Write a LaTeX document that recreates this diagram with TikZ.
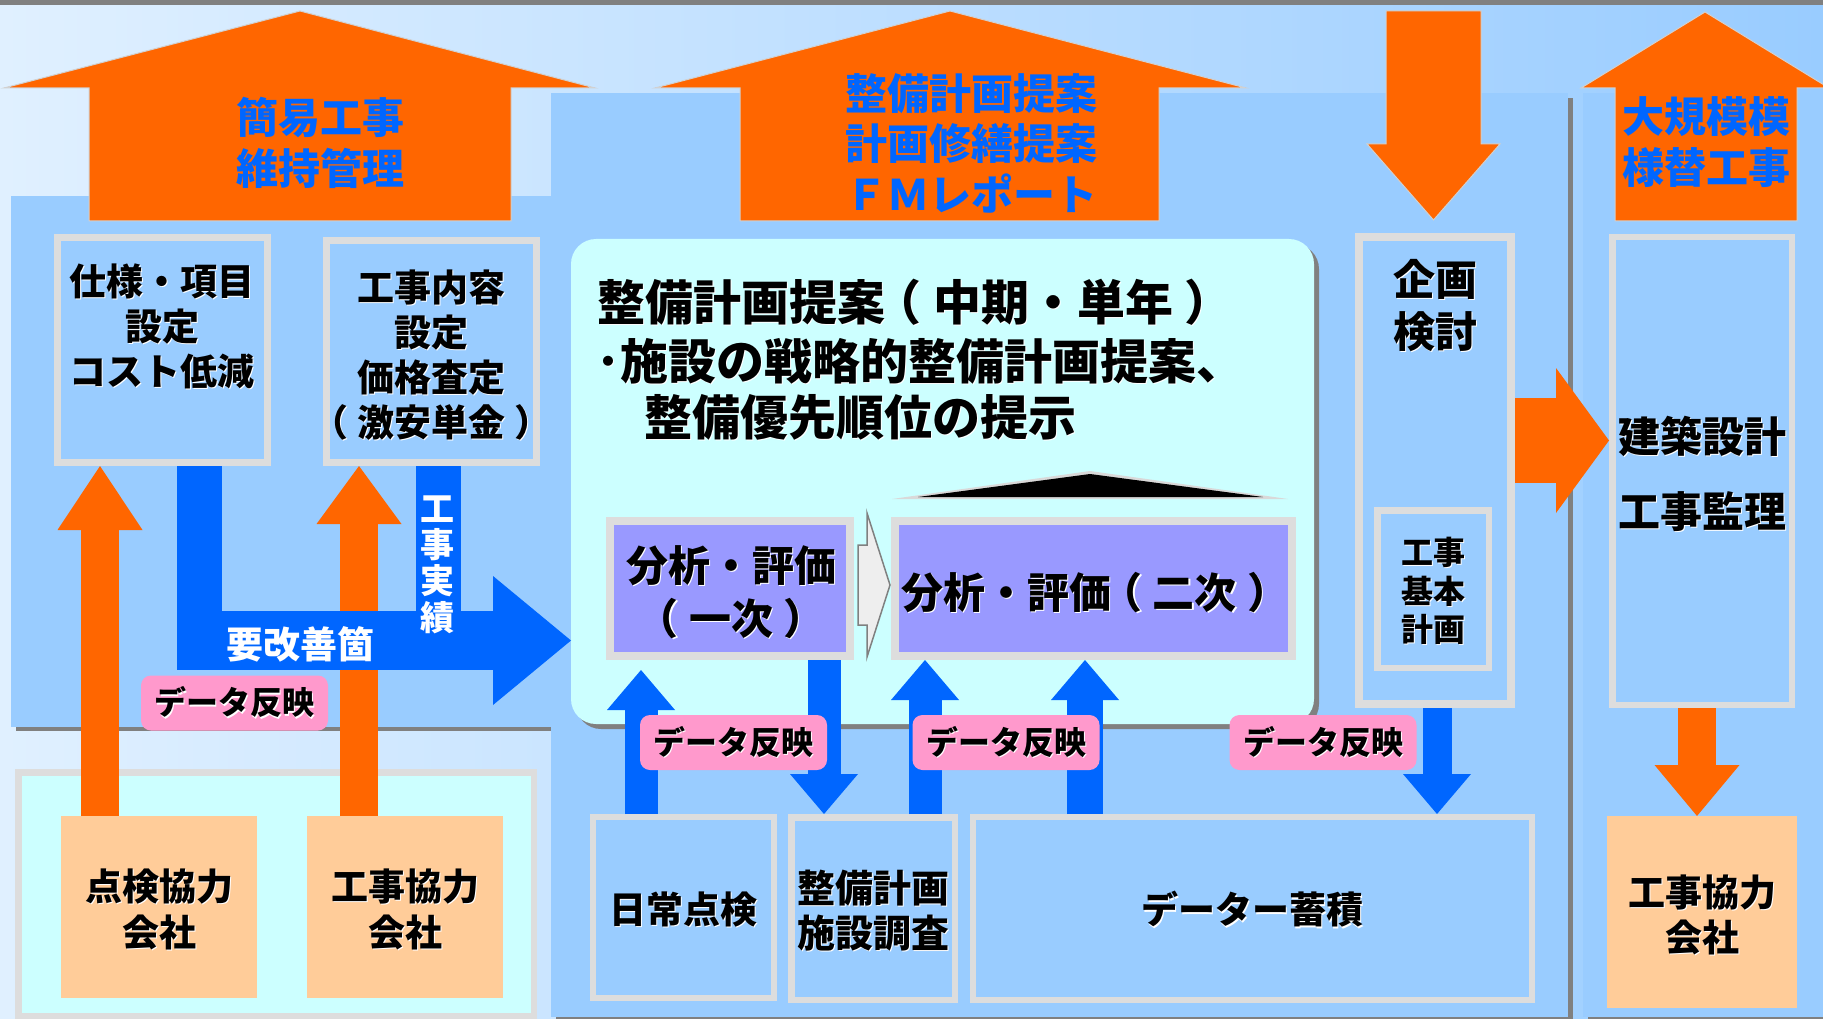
\documentclass[tikz,border=0pt]{standalone}
\usepackage{fontspec}
\newfontfamily\jpf{Noto Sans CJK JP}
\usetikzlibrary{arrows.meta}
\definecolor{orangeC}{HTML}{FF6600}
\definecolor{blueC}{HTML}{0066FF}
\definecolor{panelC}{HTML}{99CCFF}
\definecolor{cyanC}{HTML}{CCFFFF}
\definecolor{purpleC}{HTML}{9999FF}
\definecolor{borderC}{HTML}{DDDDDD}
\definecolor{peachC}{HTML}{FFCC99}
\definecolor{pinkC}{HTML}{FF99CC}
\definecolor{shadowC}{HTML}{808080}
\definecolor{bgL}{HTML}{E0F0FF}
\definecolor{bgR}{HTML}{99CCFF}
\definecolor{hollowC}{HTML}{EEEEEE}
\newcommand{\tsh}[1]{\makebox[0pt][l]{\hspace{1.2pt}\raisebox{-1.2pt}{\color{white}#1}}#1}
\newcommand{\lpar}{\makebox[1em][l]{\hspace{-0.24em}（}}
\newcommand{\rpar}{\makebox[1em][l]{\hspace{0.24em}）}}
\begin{document}
\begin{tikzpicture}[x=1pt,y=-1pt,
  boxf/.style={draw=borderC, fill=panelC, inner sep=0pt},
  peachbox/.style={fill=peachC, inner sep=0pt, outer sep=0pt, minimum width=196pt, minimum height=182pt},
  txt/.style 2 args={font=\jpf\bfseries\fontsize{#1}{#2}\selectfont, align=center, inner sep=0pt, text=black},
  btxt/.style 2 args={font=\jpf\bfseries\fontsize{#1}{#2}\selectfont, align=center, inner sep=0pt, text=blueC},
  wtxt/.style 2 args={font=\jpf\bfseries\fontsize{#1}{#2}\selectfont, align=center, inner sep=0pt, text=white},
  pinktag/.style={fill=pinkC, rounded corners=10pt, minimum width=187pt, minimum height=55pt, inner sep=0pt,
    font=\jpf\bfseries\fontsize{32}{38}\selectfont},
  bigarrow/.style={fill=orangeC, draw=black!18, line width=1pt},
  oarr/.style={draw=orangeC, line width=38pt, -{Triangle[length=#1,width=85pt,line width=0pt]}},
  oarr/.default=60pt,
  barr/.style={draw=blueC, line width=33pt, -{Triangle[length=40pt,width=68pt,line width=0pt]}},
]
\useasboundingbox (0,0) rectangle (1823,1019);
% background
\shade[left color=bgL, right color=bgR] (0,0) rectangle (1823,1019);
\fill[shadowC] (0,0) rectangle (1823,5);
% panel shadows
\fill[shadowC] (16,200) rectangle (556,731);
\fill[shadowC] (556,98) rectangle (1573,1025);
\fill[shadowC] (1588,98) rectangle (1830,1025);
% panels
\fill[panelC] (11,196) rectangle (551,727);
\fill[panelC] (551,93) rectangle (1568,1017);
\fill[panelC] (1583,93) rectangle (1830,1017);
% lower left box
\node[boxf, fill=cyanC, line width=6.5pt, minimum width=515.5pt, minimum height=243.5pt] (lowerbox) at (276,894) {};

% big orange arrows
\path[bigarrow] (300,11) -- (595,88) -- (511,88) -- (511,221) -- (89,221) -- (89,88) -- (4,88) -- cycle;
\path[bigarrow] (950,11) -- (1246,88) -- (1159,88) -- (1159,221) -- (740,221) -- (740,88) -- (655,88) -- cycle;
\path[bigarrow] (1705,12) -- (1829,88) -- (1797,88) -- (1797,221) -- (1615,221) -- (1615,88) -- (1581,88) -- cycle;
\path[bigarrow] (1386,11) -- (1481,11) -- (1481,144) -- (1500,144) -- (1433.5,220) -- (1367,144) -- (1386,144) -- cycle;
\node[btxt={42}{51}] (tL) at (320,142.5) {簡易工事\\維持管理};
\node[btxt={42}{50.5}] (tC) at (971,143) {整備計画提案\\計画修繕提案\\ＦＭレポート};
\node[btxt={42}{51}] (tR) at (1706,142.5) {大規模模\\様替工事};

% boxes
\node[boxf, line width=7pt, minimum width=210pt, minimum height=225pt] (shiyou) at (162.5,350) {};
\node[boxf, line width=7pt, minimum width=210pt, minimum height=222pt] (naiyou) at (431.5,351.5) {};
\node[boxf, line width=8pt, minimum width=152pt, minimum height=467pt] (kikaku) at (1435,470.5) {};
\node[boxf, line width=6.5pt, minimum width=111.5pt, minimum height=157.5pt] (kihon) at (1433,589) {};
\node[boxf, line width=6.5pt, minimum width=179.5pt, minimum height=467.5pt] (kenchiku) at (1702,471) {};
\node[boxf, line width=6pt, minimum width=181pt, minimum height=181pt] (nichijou) at (683.5,907.5) {};
\node[boxf, line width=6.5pt, minimum width=163.5pt, minimum height=182.5pt] (seibi) at (873,908.5) {};
\node[boxf, line width=6pt, minimum width=559pt, minimum height=183pt] (data) at (1252.5,908.5) {};
\node[peachbox] (tenken) at (159,907) {};
\node[peachbox] (koujiL) at (405,907) {};
\node[peachbox, minimum width=190pt, minimum height=192pt] (koujiR) at (1702,912) {};

% central rounded box
\fill[shadowC, rounded corners=25pt] (576,244) rectangle (1319,729);
\node[fill=cyanC, rounded corners=25pt, inner sep=0pt, outer sep=0pt, minimum width=743pt, minimum height=485pt] (cyanbox) at (942.5,481.5) {};
\node[boxf, fill=purpleC, line width=8pt, minimum width=240pt, minimum height=135pt] (ichiji) at (730,588.5) {};
\node[boxf, fill=purpleC, line width=8pt, minimum width=397pt, minimum height=135pt] (niji) at (1093.5,588.5) {};
\filldraw[fill=hollowC, draw=shadowC, line width=1.5pt] (858,545) -- (867,545) -- (867,513) -- (890,585) -- (867,657) -- (867,625) -- (858,625) -- cycle;
\fill[black!15] (892,499) -- (1090,471) -- (1288,499) -- cycle;
\fill[black] (918,497) -- (1090,474) -- (1263,497) -- cycle;

% texts in boxes
\node[txt={37}{45}] (shiyouT) at (162,327) {\tsh{仕様・項目}\\\tsh{設定}\\\tsh{コスト低減}};
\node[txt={37}{45}] (naiyouT) at (431.5,355.5) {\tsh{工事内容}\\\tsh{設定}\\\tsh{価格査定}\\\tsh{\lpar 激安単金\rpar}};
\node[txt={48}{57}, anchor=west] (plan1) at (597,303) {\tsh{整備計画提案\lpar 中期・単年\rpar}};
\node[txt={48}{57}, anchor=west] (plan2) at (596,362) {\tsh{･施設の戦略的整備計画提案、}};
\node[txt={48}{57}, anchor=west] (plan3) at (644,418) {\tsh{整備優先順位の提示}};
\node[txt={42}{53}] (ichijiT) at (731,592.5) {\tsh{分析・評価}\\\tsh{\lpar 一次\rpar}};
\node[txt={42}{53}] (nijiT) at (1090,593) {\tsh{分析・評価\lpar 二次\rpar}};
\node[txt={42}{52}] (kikakuT) at (1435,306) {\tsh{企画}\\\tsh{検討}};
\node[txt={32}{38.5}] (kihonT) at (1433,591.5) {\tsh{工事}\\\tsh{基本}\\\tsh{計画}};
\node[txt={42}{75}] (kenchikuT) at (1702,474.5) {\tsh{建築設計}\\\tsh{工事監理}};
\node[txt={37}{46}] (tenkenT) at (159,910) {\tsh{点検協力}\\\tsh{会社}};
\node[txt={37}{46}] (koujiLT) at (405,910) {\tsh{工事協力}\\\tsh{会社}};
\node[txt={37}{45}] (koujiRT) at (1702,915.5) {\tsh{工事協力}\\\tsh{会社}};
\node[txt={37}{45}] (nichijouT) at (683.5,910) {\tsh{日常点検}};
\node[txt={38}{45}] (seibiT) at (873,911.5) {\tsh{整備計画}\\\tsh{施設調査}};
\node[txt={37}{45}] (dataT) at (1252.5,910) {\tsh{データー蓄積}};

% coordinates for connectors
\coordinate (xA) at (100,0);
\coordinate (xB) at (359,0);
\coordinate (xL) at (199.5,0);
\coordinate (xJ) at (438.5,0);
\coordinate (yH) at (0,640.5);
\coordinate (yR) at (0,440.5);
\coordinate (xK) at (1697,0);
\coordinate (x1) at (641,0);
\coordinate (x2) at (824,0);
\coordinate (x3) at (925,0);
\coordinate (x4) at (1085,0);
\coordinate (x5) at (1437,0);
\coordinate (hStart) at (177,640.5);

% orange connectors
\draw[oarr=64pt] (tenken.north -| xA) -- (shiyou.south -| xA);
\draw[oarr=58pt] (koujiL.north -| xB) -- (naiyou.south -| xB);
\draw[draw=orangeC, line width=85pt, -{Triangle[length=53pt,width=145pt,line width=0pt]}] (kikaku.east |- yR) -- (kenchiku.west |- yR);
\draw[oarr=51pt] (kenchiku.south -| xK) -- (koujiR.north -| xK);

% blue L arrow
\draw[draw=blueC, line width=45pt] (shiyou.south -| xL) -- (xL |- 0,670);
\draw[draw=blueC, line width=45pt] (naiyou.south -| xJ) -- (xJ |- yH);
\draw[draw=blueC, line width=59pt, -{Triangle[length=78pt,width=129pt,line width=0pt]}] (hStart) -- (cyanbox.west |- yH);
\node[wtxt={37}{45}] (kaizenT) at (300,644) {要改善箇};
\node[wtxt={34}{36.3}] (jissekiT) at (437,564.5) {工\\事\\実\\績};

% blue connectors
\draw[barr, shorten >=10pt] (nichijou.north -| x1) -- (ichiji.south -| x1);
\draw[barr] (ichiji.south -| x2) -- (seibi.north -| x2);
\draw[barr] (seibi.north -| x3) -- (niji.south -| x3);
\draw[barr, line width=36pt] (data.north -| x4) -- (niji.south -| x4);
\draw[barr, line width=29pt] (kikaku.south -| x5) -- (data.north -| x5);

% pink tags
\node[pinktag] (tag1) at (234.5,703) {\tsh{データ反映}};
\node[pinktag] (tag2) at (733.5,742.5) {\tsh{データ反映}};
\node[pinktag] (tag3) at (1006,742.5) {\tsh{データ反映}};
\node[pinktag] (tag4) at (1323,742.5) {\tsh{データ反映}};
\end{tikzpicture}
\end{document}
